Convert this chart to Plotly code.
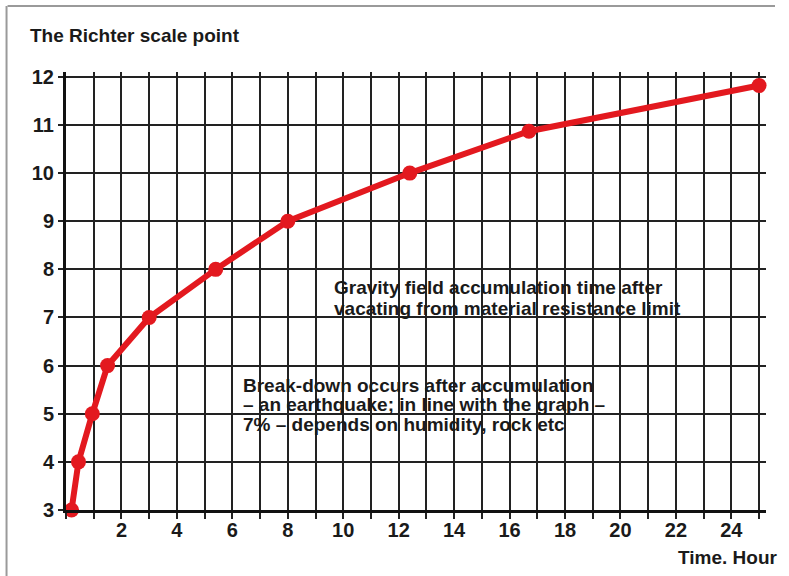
import plotly.graph_objects as go

# Data
hours = [0.2, 0.45, 0.95, 1.5, 3.0, 5.4, 8.0, 12.4, 16.7, 25.0]
richter = [3, 4, 5, 6, 7, 8, 9, 10, 10.87, 11.82]

x_tick_vals = list(range(0, 26))
x_tick_text = [str(v) if (v % 2 == 0 and v > 0) else "" for v in x_tick_vals]
y_tick_vals = list(range(3, 13))
y_tick_text = [str(v) for v in y_tick_vals]

title_text = "The Richter scale point"
xlabel_text = "Time. Hour"
note1_lines = ["Gravity field accumulation time after",
               "vacating from material resistance limit"]
note2_lines = ["Break-down occurs after accumulation",
               "– an earthquake; in line with the graph –",
               "7% – depends on humidity, rock etc"]

FONT = "Liberation Sans, Arial, sans-serif"
RED = "#e3191f"
TXT = "#1a1a1a"

# plot area geometry (pixels)
L, R, T, B = 65.5, 766, 72, 510
W, H = R - L, B - T

def px(xp):
    return (xp - L) / W

def py(yp):
    return (B - yp) / H

fig = go.Figure()
fig.add_trace(go.Scatter(
    x=hours, y=richter, mode="lines+markers",
    line=dict(color=RED, width=6),
    marker=dict(color=RED, size=15),
    cliponaxis=False, hoverinfo="skip", showlegend=False,
))

annots = [
    dict(text=f"<b>{title_text}</b>", xref="paper", yref="paper",
         x=px(27), y=py(36), xanchor="left", yanchor="middle",
         showarrow=False, font=dict(size=19, family=FONT, color=TXT)),
    dict(text=f"<b>{xlabel_text}</b>", xref="paper", yref="paper",
         x=px(779), y=py(557), xanchor="right", yanchor="middle",
         showarrow=False, font=dict(size=19, family=FONT, color=TXT)),
]
for i, line in enumerate(note1_lines):
    annots.append(dict(text=f"<b>{line}</b>", xref="paper", yref="paper",
                       x=px(332), y=py(287 + 21 * i), xanchor="left", yanchor="middle",
                       showarrow=False, font=dict(size=19, family=FONT, color=TXT)))
for i, line in enumerate(note2_lines):
    annots.append(dict(text=f"<b>{line}</b>", xref="paper", yref="paper",
                       x=px(241), y=py(385 + 19.5 * i), xanchor="left", yanchor="middle",
                       showarrow=False, font=dict(size=19, family=FONT, color=TXT)))

fig.update_layout(
    width=789, height=576,
    margin=dict(l=L, r=789 - R, t=T, b=576 - B),
    paper_bgcolor="white", plot_bgcolor="white",
    font=dict(family=FONT, size=16, color=TXT),
    xaxis=dict(
        range=[0, 25.25], tickmode="array", tickvals=x_tick_vals, ticktext=x_tick_text,
        showgrid=True, gridcolor="#222222", gridwidth=1.6,
        showline=True, linecolor="#111111", linewidth=3,
        ticks="outside", ticklen=6, tickwidth=1.6, tickcolor="#222222",
        ticklabelstandoff=-6,
        tickfont=dict(family=FONT, size=20, color=TXT, weight="bold"),
        zeroline=False, fixedrange=True,
    ),
    yaxis=dict(
        range=[3, 12.1], tickmode="array", tickvals=y_tick_vals, ticktext=y_tick_text,
        showgrid=True, gridcolor="#222222", gridwidth=1.6,
        showline=True, linecolor="#111111", linewidth=3,
        ticks="outside", ticklen=5, tickwidth=1.6, tickcolor="#222222",
        tickfont=dict(family=FONT, size=20, color=TXT, weight="bold"),
        zeroline=False, fixedrange=True,
    ),
    annotations=annots,
    shapes=[
        dict(type="line", xref="paper", yref="paper", x0=px(7), x1=px(775),
             y0=py(6), y1=py(6), line=dict(color="#9a9a9a", width=2)),
        dict(type="line", xref="paper", yref="paper", x0=px(6), x1=px(6),
             y0=py(6), y1=py(576), line=dict(color="#9a9a9a", width=2)),
    ],
)

fig.write_html("out.html", config={"displayModeBar": False},
               post_script="document.body.style.margin='0';")
